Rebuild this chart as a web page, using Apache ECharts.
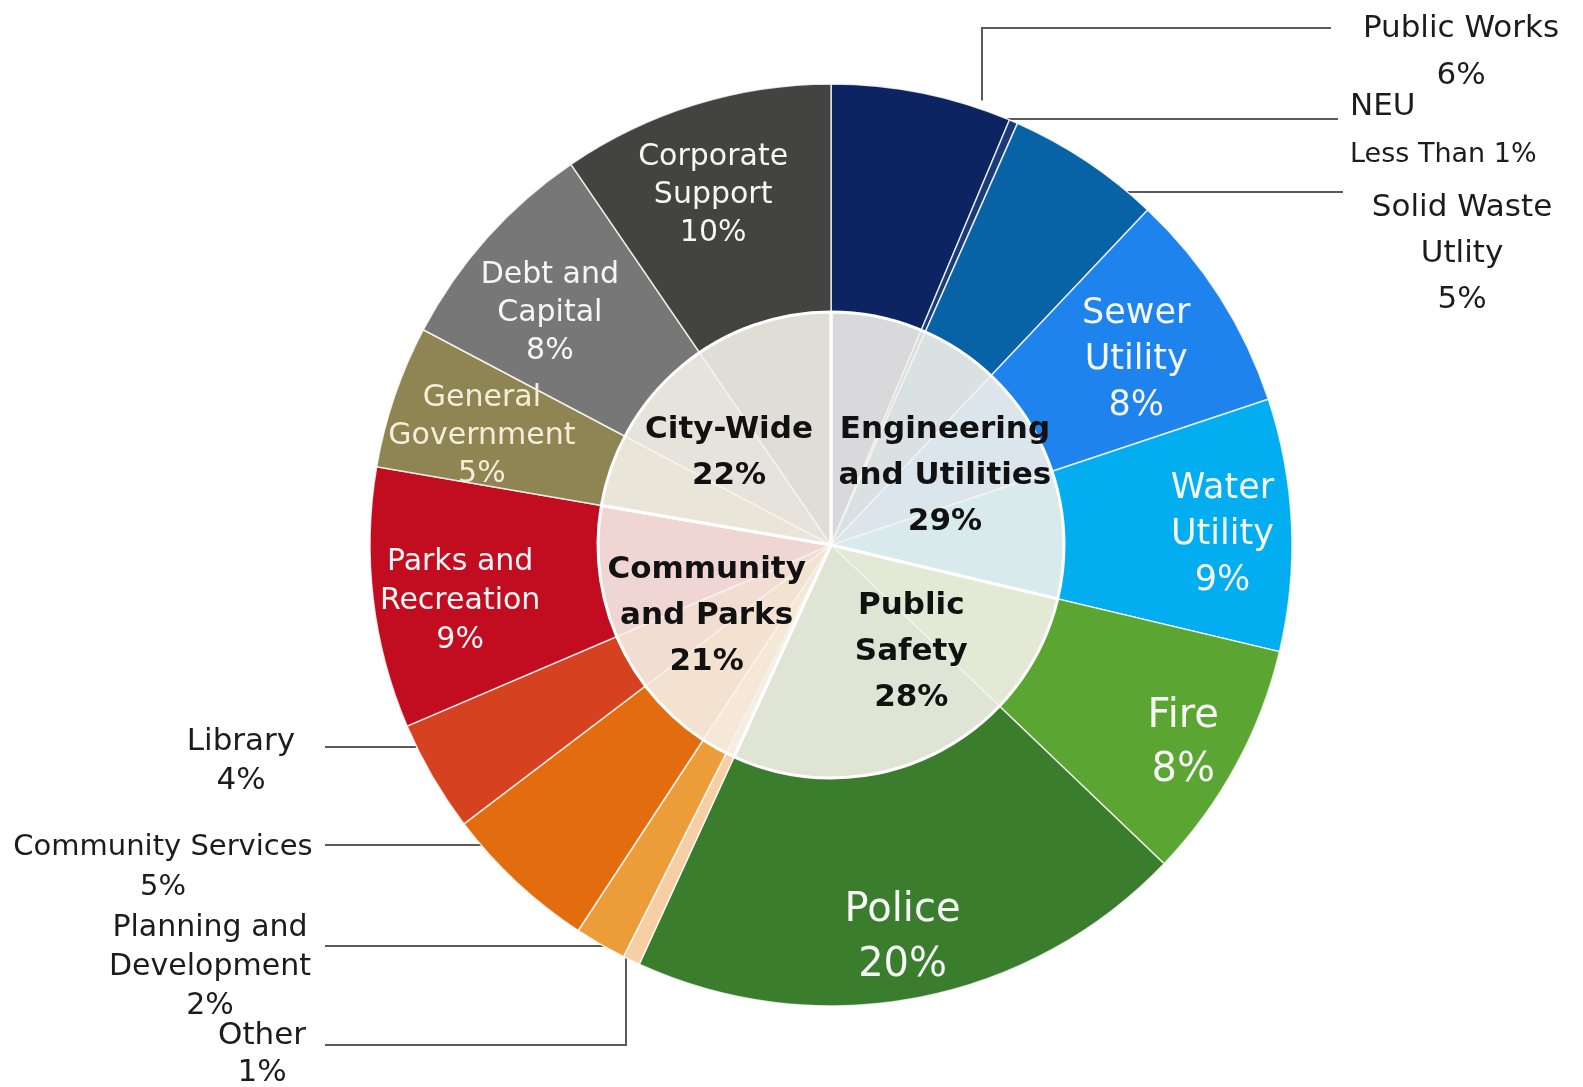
<!DOCTYPE html>
<html>
<head>
<meta charset="utf-8">
<title>Budget by Department</title>
<script src="https://cdn.jsdelivr.net/npm/echarts@6/dist/echarts.min.js"></script>
<style>
  html, body { margin: 0; padding: 0; background: #ffffff; }
  #chart { width: 1583px; height: 1087px; }
</style>
</head>
<body>
<div id="chart"></div>
<script>
// ---- Data: departments, clockwise from 12 o'clock (share of budget, %) ----
const departments = [
  'Public Works', 'NEU', 'Solid Waste Utlity', 'Sewer Utility', 'Water Utility',
  'Fire', 'Police',
  'Other', 'Planning and Development', 'Community Services', 'Library', 'Parks and Recreation',
  'General Government', 'Debt and Capital', 'Corporate Support'
];
const shares = [6.3, 0.3, 5.4, 7.8, 8.8, 8.4, 19.6, 0.6, 1.8, 5.4, 3.9, 9.1, 5.0, 7.7, 9.5];

// Service areas (inner ring) and the area each department belongs to
const groups = ['Engineering and Utilities', 'Public Safety', 'Community and Parks', 'City-Wide'];
const groupOf = [0, 0, 0, 0, 0, 1, 1, 2, 2, 2, 2, 2, 3, 3, 3];

// ---- Styling ----
const FONT = 'DejaVu Sans';
const deptColors = [
  '#0c2461', '#1a3a78', '#0862a6', '#1f83ee', '#02aeef',
  '#5ba532', '#3a7d2c',
  '#f7cfa4', '#ed9c3a', '#e36c0e', '#d6411f', '#c20d21',
  '#8e8552', '#777777', '#434341'
];
const wrapped = {
  'Solid Waste Utlity': 'Solid Waste\nUtlity',
  'Sewer Utility': 'Sewer\nUtility',
  'Water Utility': 'Water\nUtility',
  'Planning and Development': 'Planning and\nDevelopment',
  'Parks and Recreation': 'Parks and\nRecreation',
  'General Government': 'General\nGovernment',
  'Debt and Capital': 'Debt and\nCapital',
  'Corporate Support': 'Corporate\nSupport',
  'Engineering and Utilities': 'Engineering\nand Utilities',
  'Public Safety': 'Public\nSafety',
  'Community and Parks': 'Community\nand Parks'
};
const wrap = n => wrapped[n] || n;

// Pie geometry (px)
const CX = 831, CY = 545, R = 461, R_IN = 233;
const TEXT_DY = 3; // optical centring of multi-line labels

// Labels drawn inside the outer ring: radius ratio, font size, line height, nudges
const insideStyle = {
  'Sewer Utility':        { rr: 0.78, size: 35, lh: 46, dx: 2, dy: 5 },
  'Water Utility':        { rr: 0.85, size: 35, lh: 46, dy: 4 },
  'Fire':                 { rr: 0.87, size: 40, lh: 54, dy: 4 },
  'Police':               { rr: 0.86, size: 40, lh: 55, dx: -3, dy: 1 },
  'Parks and Recreation': { rr: 0.81, size: 30, lh: 39, dy: 10 },
  'General Government':   { rr: 0.80, size: 30, lh: 38, dy: 7, color: '#f3eed9' },
  'Debt and Capital':     { rr: 0.80, size: 30, lh: 38, dx: -6, dy: 11 },
  'Corporate Support':    { rr: 0.80, size: 30, lh: 38, dx: -9, dy: 0 }
};

// Labels placed beside the pie with leader lines
const callouts = {
  'Public Works':             { at: [1461, 49],  size: 31, lh: 47, lineY: 28,   elbowX: 982, endX: 1331, gap: 9 },
  'NEU':                      { at: [1350, 128], size: 31, lh: 48, lineY: 119,  endX: 1338, align: 'left' },
  'Solid Waste Utlity':       { at: [1462, 251], size: 31, lh: 46, lineY: 192,  endX: 1343 },
  'Other':                    { at: [262, 1051], size: 31, lh: 37, lineY: 1045, elbowX: 626, endX: 325, gap: 0 },
  'Planning and Development': { at: [210, 964],  size: 30, lh: 39, lineY: 946,  endX: 325 },
  'Community Services':       { at: [163, 864],  size: 29, lh: 40, lineY: 845,  endX: 325 },
  'Library':                  { at: [241, 758],  size: 31, lh: 39, lineY: 747,  endX: 325 }
};

// Inner ring label nudges from the sector's mid-angle point
const groupNudge = {
  'Engineering and Utilities': [8, 12],
  'Public Safety': [21, -17],
  'Community and Parks': [-5, 5],
  'City-Wide': [-15, 8]
};

// ---- Derived values ----
const total = shares.reduce((a, b) => a + b, 0);
const groupShares = groups.map((g, gi) =>
  shares.reduce((s, v, i) => s + (groupOf[i] === gi ? v : 0), 0));

function midAngles(values) {
  const out = [];
  let acc = 0;
  const sum = values.reduce((a, b) => a + b, 0);
  values.forEach(v => { out.push((acc + v / 2) / sum * 2 * Math.PI); acc += v; });
  return out;
}
const deptMid = midAngles(shares);
const groupMid = midAngles(groupShares);

const pct = v => {
  const p = Math.round(v / total * 100);
  return p < 1 ? 'Less Than 1%' : p + '%';
};
const polar = (a, r) => [CX + r * Math.sin(a), CY - r * Math.cos(a)];

// ---- Series data ----
const outerData = departments.map((name, i) => {
  const c = callouts[name];
  const s = insideStyle[name];
  const item = { name, value: shares[i], itemStyle: { color: deptColors[i] } };
  if (c) {
    item.label = { position: 'outside', fontSize: c.size, lineHeight: c.lh, color: '#1c1c1c' };
    item.labelLine = { show: true };
  } else {
    item.label = { position: 'inside', fontSize: s.size, lineHeight: s.lh, color: s.color || '#f6f6f6' };
    item.labelLine = { show: false };
  }
  return item;
});

const innerData = groups.map((name, i) => ({ name, value: groupShares[i] }));

const chart = echarts.init(document.getElementById('chart'), null, { renderer: 'canvas' });

chart.setOption({
  backgroundColor: '#ffffff',
  animation: false,
  series: [
    {
      type: 'pie',
      center: [CX, CY],
      radius: [0, R],
      startAngle: 90,
      clockwise: true,
      silent: true,
      avoidLabelOverlap: false,
      itemStyle: { borderColor: 'rgba(255,255,255,0.8)', borderWidth: 1.5 },
      label: {
        fontFamily: FONT,
        formatter: p => {
          if (p.name === 'NEU') return '{a|NEU}\n{b|' + pct(p.value) + '}';
          return wrap(p.name) + '\n' + pct(p.value);
        },
        rich: {
          a: { fontFamily: FONT, fontSize: 31, lineHeight: 48, color: '#1c1c1c' },
          b: { fontFamily: FONT, fontSize: 27, lineHeight: 48, color: '#1c1c1c' }
        }
      },
      labelLine: { show: true, lineStyle: { color: '#5a5a5a', width: 2 } },
      labelLayout: p => {
        const name = departments[p.dataIndex];
        const c = callouts[name];
        if (c) {
          let pts;
          if (c.elbowX != null) {
            const h = Math.sqrt(R * R - (c.elbowX - CX) * (c.elbowX - CX));
            const y0 = c.lineY < CY ? CY - h - c.gap : CY + h + c.gap;
            pts = [[c.elbowX, y0], [c.elbowX, c.lineY], [c.endX, c.lineY]];
          } else {
            const w = Math.sqrt(R * R - (c.lineY - CY) * (c.lineY - CY));
            const x0 = c.endX > CX ? CX + w : CX - w;
            pts = [[x0, c.lineY], [(x0 + c.endX) / 2, c.lineY], [c.endX, c.lineY]];
          }
          return {
            x: c.at[0], y: c.at[1] + TEXT_DY,
            align: c.align || 'center', verticalAlign: 'middle',
            labelLinePoints: pts
          };
        }
        const s = insideStyle[name];
        const [x, y] = polar(deptMid[p.dataIndex], R * s.rr);
        return { x: x + (s.dx || 0), y: y + (s.dy || 0) + TEXT_DY, align: 'center', verticalAlign: 'middle' };
      },
      data: outerData
    },
    {
      // translucent service-area disc over the centre of the pie
      type: 'pie',
      center: [CX, CY],
      radius: [0, R_IN],
      startAngle: 90,
      clockwise: true,
      silent: true,
      avoidLabelOverlap: false,
      itemStyle: { color: 'rgba(246,243,236,0.88)', borderColor: '#ffffff', borderWidth: 3 },
      label: {
        position: 'inside',
        fontFamily: FONT,
        fontWeight: 'bold',
        fontSize: 31,
        lineHeight: 46,
        color: '#111111',
        formatter: p => wrap(p.name) + '\n' + pct(p.value)
      },
      labelLine: { show: false },
      labelLayout: p => {
        const name = groups[p.dataIndex];
        const [x, y] = polar(groupMid[p.dataIndex], 135);
        const n = groupNudge[name];
        return { x: x + n[0], y: y + n[1] + TEXT_DY, align: 'center', verticalAlign: 'middle' };
      },
      data: innerData
    }
  ]
});
</script>
</body>
</html>
